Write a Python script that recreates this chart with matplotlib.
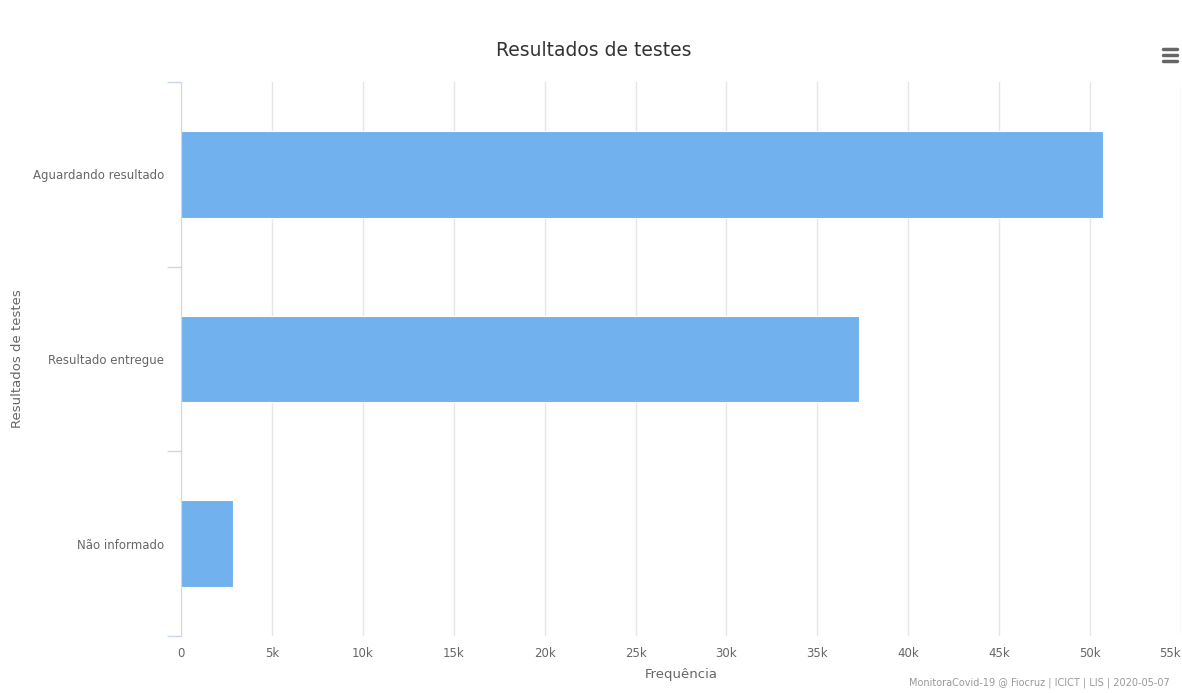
import matplotlib.pyplot as plt
from matplotlib.lines import Line2D

categorias = ["Aguardando resultado", "Resultado entregue", "Não informado"]
frequencia = [50700, 37300, 2840]
xticks = [0, 5000, 10000, 15000, 20000, 25000, 30000, 35000, 40000, 45000, 50000, 55000]
xtick_labels = ["0", "5k", "10k", "15k", "20k", "25k", "30k", "35k", "40k", "45k", "50k", "55k"]

W, H = 1182, 693
fig = plt.figure(figsize=(W / 100, H / 100), dpi=100)
ax = fig.add_axes([181 / W, 57 / H, 1000 / W, 554 / H])

pos = list(range(len(categorias)))
ax.barh(pos, frequencia, height=0.47, color="#71b1ee", edgecolor="white", linewidth=0.8, zorder=3)

ax.set_xlim(0, 55000)
ax.set_ylim(len(categorias) - 0.5, -0.5)
ax.set_xticks(xticks)
ax.set_xticklabels(xtick_labels)
ax.set_yticks(pos)
ax.set_yticklabels(categorias)
ax.tick_params(axis="x", length=0, pad=8, labelsize=8.5, labelcolor="#666666")
ax.tick_params(axis="y", length=0, pad=12, labelsize=8.5, labelcolor="#666666")
# last label kept inside the chart, like the original
ax.get_xticklabels()[-1].set_horizontalalignment("right")

# category boundary ticks on the left axis
ax.set_yticks([-0.5, 0.5, 1.5, 2.5], minor=True)
ax.tick_params(axis="y", which="minor", length=10, color="#ccd6eb", width=1)

ax.grid(axis="x", color="#e6e6e6", linewidth=1, zorder=0)
for s in ["top", "right", "bottom"]:
    ax.spines[s].set_visible(False)
ax.spines["left"].set_color("#ccd6eb")
ax.spines["left"].set_zorder(4)

ax.set_xlabel("Frequência", fontsize=9.5, color="#666666", labelpad=6)
ax.set_ylabel("Resultados de testes", fontsize=9.5, color="#666666")
ax.yaxis.set_label_coords((24 - 181) / 1000, 0.5)

fig.text(594 / W, 1 - 50 / H, "Resultados de testes", ha="center", va="center",
         fontsize=13.5, color="#333333")
fig.text(1170 / W, 1 - 688 / H, "MonitoraCovid-19 @ Fiocruz | ICICT | LIS | 2020-05-07",
         ha="right", va="bottom", fontsize=7, color="#999999")

# menu icon
for yy in [49, 55, 61]:
    fig.add_artist(Line2D([1163 / W, 1177 / W], [1 - yy / H, 1 - yy / H],
                          color="#666666", linewidth=2.5, solid_capstyle="round"))

fig.savefig("out.png", dpi=100, facecolor="white")
